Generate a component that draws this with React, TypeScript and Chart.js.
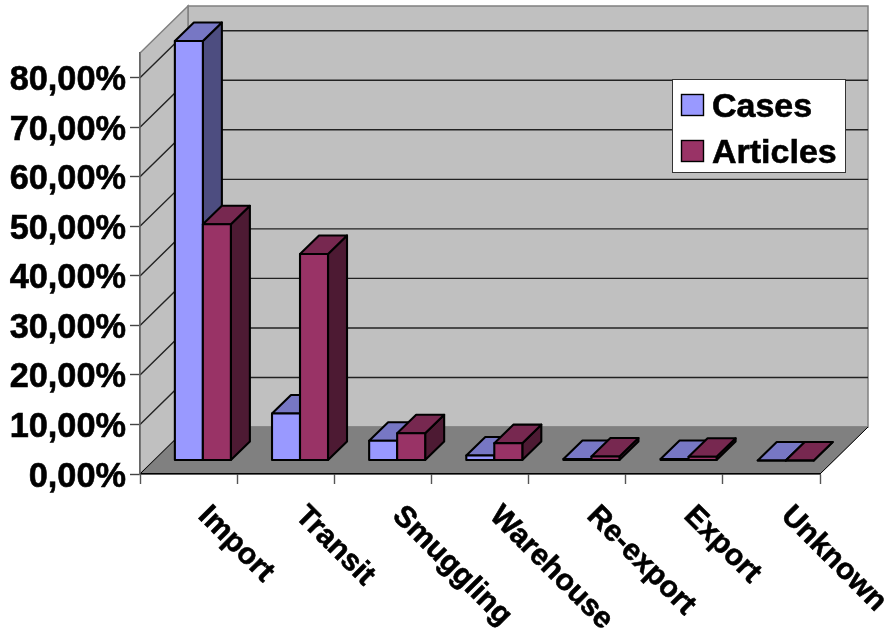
import React, { useEffect, useRef } from "react";
import { Chart, registerables, BarController, BarElement } from "chart.js";

Chart.register(...registerables);

const categories = ["Import", "Transit", "Smuggling", "Warehouse", "Re-export", "Export", "Unknown"];
const casesValues = [84.7, 9.5, 4.0, 1.0, 0.3, 0.3, 0];
const articlesValues = [47.7, 41.7, 5.5, 3.5, 0.8, 0.75, 0];
const legendLabels = ["Cases", "Articles"];

const FONT_FAMILY = '"Liberation Sans", Arial, sans-serif';

// Depth of the whole box, and of a bar resting on the floor.
const WALL_DX = 48;
const WALL_DY = 47;
const BAR_SHIFT_X = 14.3;
const BAR_SHIFT_Y = 13.5;
const BAR_DEPTH_X = 19;
const BAR_DEPTH_Y = 18.5;
const BAR_EDGE = 2.1;

const WALL_FILL = "#c0c0c0";
const FLOOR_FILL = "#808080";
const CASES_COLOR = "#9999ff";
const ARTICLES_COLOR = "#993366";
const FACE_SHADES: Record<string, { top: string; side: string }> = {
  [CASES_COLOR]: { top: "#7777c4", side: "#4d4d80" },
  [ARTICLES_COLOR]: { top: "#772850", side: "#4d1a33" },
};

const polygon = (ctx: CanvasRenderingContext2D, pts: number[][], fill: string, stroke: string, lw: number) => {
  ctx.beginPath();
  pts.forEach(([px, py], i) => (i ? ctx.lineTo(px, py) : ctx.moveTo(px, py)));
  ctx.closePath();
  ctx.fillStyle = fill;
  ctx.fill();
  ctx.lineWidth = lw;
  ctx.strokeStyle = stroke;
  ctx.stroke();
};

// Slightly heavier than the plain bold face.
const heavyText = (ctx: CanvasRenderingContext2D, text: string, x: number, y: number) => {
  ctx.fillText(text, x, y);
  ctx.strokeStyle = "#000";
  ctx.lineWidth = 0.6;
  ctx.strokeText(text, x, y);
};

// A bar with a front, a top and a right-hand face, pushed back onto the floor.
class Box3DElement extends BarElement {
  static id = "box3d";
  static defaults = { ...BarElement.defaults };
  draw(ctx: CanvasRenderingContext2D) {
    const { x, y, base, width } = (this as any).getProps(["x", "y", "base", "width"]);
    const color = (this as any).options.backgroundColor as string;
    const shade = FACE_SHADES[color];
    const l = x - width / 2 + BAR_SHIFT_X;
    const r = x + width / 2 + BAR_SHIFT_X;
    const t = y - BAR_SHIFT_Y;
    const b = base - BAR_SHIFT_Y;
    const dx = BAR_DEPTH_X;
    const dy = BAR_DEPTH_Y;
    ctx.save();
    ctx.lineJoin = "round";
    polygon(ctx, [[r, t], [r + dx, t - dy], [r + dx, b - dy], [r, b]], shade.side, "#000", BAR_EDGE);
    polygon(ctx, [[l, t], [l + dx, t - dy], [r + dx, t - dy], [r, t]], shade.top, "#000", BAR_EDGE);
    polygon(ctx, [[l, t], [r, t], [r, b], [l, b]], color, "#000", BAR_EDGE);
    ctx.restore();
  }
}

class Box3DController extends BarController {
  static id = "box3d";
  static defaults = { ...BarController.defaults, dataElementType: "box3d" };
}

Chart.register(Box3DElement as any, Box3DController as any);

// Side wall, back wall, floor and the gridlines that run across them.
const roomPlugin = {
  id: "room",
  beforeDraw(chart: any) {
    const { ctx, chartArea: a, scales } = chart;
    const { left: L, right: R, top: T, bottom: B } = a;
    ctx.save();
    polygon(ctx, [[L + WALL_DX, T - WALL_DY], [R + WALL_DX, T - WALL_DY], [R + WALL_DX, B - WALL_DY], [L + WALL_DX, B - WALL_DY]], WALL_FILL, "#808080", 1.5);
    polygon(ctx, [[L, T], [L + WALL_DX, T - WALL_DY], [L + WALL_DX, B - WALL_DY], [L, B]], WALL_FILL, "#808080", 1.5);
    polygon(ctx, [[L, B], [L + WALL_DX, B - WALL_DY], [R + WALL_DX, B - WALL_DY], [R, B]], FLOOR_FILL, "#808080", 1);
    ctx.strokeStyle = "#000";
    ctx.lineWidth = 1;
    ctx.beginPath();
    ctx.moveTo(R, B);
    ctx.lineTo(R + WALL_DX, B - WALL_DY);
    ctx.moveTo(L, B);
    ctx.lineTo(L + WALL_DX, B - WALL_DY);
    ctx.stroke();
    ctx.strokeStyle = "#222";
    ctx.lineWidth = 1.4;
    ctx.beginPath();
    scales.y.ticks.forEach((tick: any) => {
      if (tick.value === 0) return;
      const py = scales.y.getPixelForValue(tick.value);
      ctx.moveTo(L, py);
      ctx.lineTo(L + WALL_DX, py - WALL_DY);
      ctx.lineTo(R + WALL_DX, py - WALL_DY);
    });
    ctx.stroke();
    ctx.restore();
  },
  // Cases go down first so that Articles overlaps them, and nothing is clipped to the front plane.
  beforeDatasetsDraw(chart: any) {
    [0, 1].forEach((i) => chart.getDatasetMeta(i).controller.draw());
    return false;
  },
  afterDraw(chart: any) {
    const { ctx, scales } = chart;
    ctx.save();
    ctx.fillStyle = "#000";
    ctx.textBaseline = "alphabetic";

    // Value labels beside the side wall.
    ctx.font = `bold 34.3px ${FONT_FAMILY}`;
    ctx.textAlign = "right";
    scales.y.ticks.forEach((tick: any) => {
      heavyText(ctx, tick.label, 126, scales.y.getPixelForValue(tick.value) + 12.5);
    });

    // Category names, slanting down to the right.
    ctx.font = `bold 30px ${FONT_FAMILY}`;
    ctx.textAlign = "left";
    categories.forEach((name, i) => {
      ctx.save();
      ctx.translate(scales.x.getPixelForValue(i) + 8.5, 517);
      ctx.rotate(Math.PI / 4);
      heavyText(ctx, name, 0, 0);
      ctx.restore();
    });

    // Legend box over the back wall.
    ctx.fillStyle = "#fff";
    ctx.strokeStyle = "#333";
    ctx.lineWidth = 1;
    ctx.fillRect(672.5, 79.5, 173, 93);
    ctx.strokeRect(672.5, 79.5, 173, 93);
    [CASES_COLOR, ARTICLES_COLOR].forEach((color, i) => {
      const top = i === 0 ? 94.5 : 140.5;
      ctx.fillStyle = color;
      ctx.fillRect(681.5, top, 22, 21);
      ctx.strokeStyle = "#000";
      ctx.lineWidth = 1.4;
      ctx.strokeRect(681.5, top, 22, 21);
      ctx.fillStyle = "#000";
      ctx.font = `bold 34px ${FONT_FAMILY}`;
      heavyText(ctx, legendLabels[i], 712, i === 0 ? 116.5 : 162.5);
    });
    ctx.restore();
  },
};

export default function App() {
  const ref = useRef<HTMLCanvasElement>(null);
  useEffect(() => {
    const chart = new Chart(ref.current as HTMLCanvasElement, {
      type: "box3d" as any,
      plugins: [roomPlugin],
      data: {
        labels: categories,
        datasets: [
          { label: legendLabels[0], data: casesValues, backgroundColor: CASES_COLOR, categoryPercentage: 0.5765, barPercentage: 1 },
          { label: legendLabels[1], data: articlesValues, backgroundColor: ARTICLES_COLOR, categoryPercentage: 0.5765, barPercentage: 1 },
        ] as any,
      },
      options: {
        responsive: false,
        animation: false,
        layout: { padding: { top: 53, right: 67, left: 0, bottom: 0 } },
        plugins: { legend: { display: false }, tooltip: { enabled: false } },
        scales: {
          x: {
            type: "category",
            offset: true,
            afterFit: (s: any) => { s.height = 160; },
            ticks: { display: false },
            grid: { offset: true, drawOnChartArea: false, drawTicks: true, tickLength: 10, tickColor: "#555", tickWidth: 1.4 },
            border: { color: "#000", width: 1.6 },
          },
          y: {
            type: "linear",
            min: 0,
            max: 85,
            afterFit: (s: any) => { s.width = 140; },
            ticks: {
              display: false,
              stepSize: 10,
              includeBounds: false,
              callback: (v: any) => `${Number(v).toFixed(2).replace(".", ",")}%`,
            },
            grid: { drawOnChartArea: false, drawTicks: true, tickLength: 10, tickColor: "#444", tickWidth: 1.4 },
            border: { color: "#666", width: 1.6 },
          },
        },
      } as any,
    });
    return () => chart.destroy();
  }, []);
  return (
    <div style={{ position: "absolute", left: 0, top: 0 }}>
      <canvas ref={ref} width={887} height={634} style={{ display: "block" }} />
    </div>
  );
}
